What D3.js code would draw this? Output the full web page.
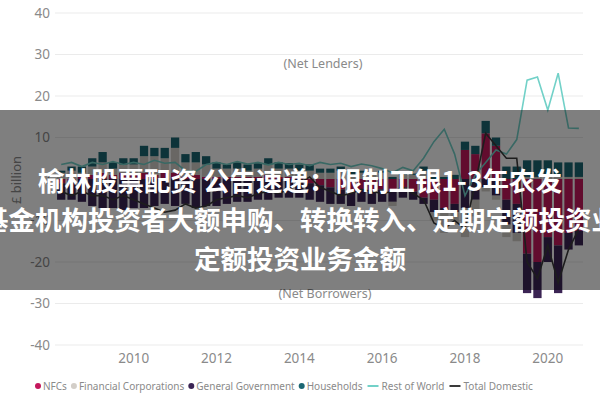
<!DOCTYPE html>
<html><head><meta charset="utf-8">
<script src="https://cdn.jsdelivr.net/npm/d3@7"></script>
<style>body{margin:0;background:#fff}svg{display:block}</style>
</head><body><svg id="c" width="600" height="400"></svg>
<script>
const quarters = ["2008 Q2","2008 Q3","2008 Q4","2009 Q1","2009 Q2","2009 Q3","2009 Q4",
"2010 Q1","2010 Q2","2010 Q3","2010 Q4","2011 Q1","2011 Q2","2011 Q3","2011 Q4",
"2012 Q1","2012 Q2","2012 Q3","2012 Q4","2013 Q1","2013 Q2","2013 Q3","2013 Q4",
"2014 Q1","2014 Q2","2014 Q3","2014 Q4","2015 Q1","2015 Q2","2015 Q3","2015 Q4",
"2016 Q1","2016 Q2","2016 Q3","2016 Q4","2017 Q1","2017 Q2","2017 Q3","2017 Q4",
"2018 Q1","2018 Q2","2018 Q3","2018 Q4","2019 Q1","2019 Q2","2019 Q3","2019 Q4",
"2020 Q1","2020 Q2","2020 Q3","2020 Q4"];
const nfc = [-1.0,-0.5,0.5,1.0,1.5,1.0,1.5, 1.0,1.5,1.0,1.5,1.5,0.5,1.0,0.5,
 0.5,0.5,0.5,0.5,0.5,1.0,0.5,0.5, 0.5,-1.0,-1.5,-2.0,-2.5,-3.0,-2.5,-3.0,
 -2.5,-3.0,-2.0,-3.0,-4.5,-5.0,-7.0,-6.0, 7.0,6.0,11.0,8.0,-5.0,-6.0,-18.0,-20.0,
 -14.0,-16.0,-13.0,-12.5];
const financialCorps = [1.5,2.0,1.0,2.0,2.5,1.5,2.0, 2.5,4.0,4.5,3.5,6.0,3.5,3.0,3.0,
 2.0,2.0,2.0,1.5,2.0,2.5,2.0,2.0, 1.5,2.0,1.5,1.5,2.0,1.0,1.5,1.0,
 1.5,-1.0,1.0,1.0,2.0,-2.0,-5.0,-3.0, -7.0,-4.0,-1.0,-1.0,-3.0,-2.0,0.5,0.5,
 0.5,0.5,0.5,0.5];
const generalGov = [-4.0,-4.5,-5.5,-6.5,-7.0,-7.0,-7.5, -7.0,-7.0,-6.5,-6.0,-6.5,-6.0,-7.0,-6.5,
 -6.5,-6.0,-5.5,-5.5,-5.0,-5.0,-4.5,-4.5, -4.5,-4.0,-4.0,-4.0,-3.5,-3.5,-3.0,-3.0,
 -3.0,-2.5,-2.5,-2.0,-1.5,-3.0,-1.0,-2.0, -7.0,-5.0,-2.0,-4.0,-6.0,-7.0,-9.5,-8.7,
 -6.0,-11.5,-4.0,-3.5];
const households = [0.5,1.0,1.5,2.0,2.5,1.5,1.5, 1.5,2.5,2.0,2.5,2.5,2.0,2.5,2.0,
 1.5,1.0,1.5,1.5,1.3,1.5,1.5,1.3, 1.5,1.5,1.0,1.0,1.0,1.0,0.5,0.5,
 0.5,0.5,0.5,0.3,1.0,0.5,0.5,1.0, 2.0,2.0,3.0,2.0,3.0,3.0,4.0,4.0,
 4.0,3.5,3.5,3.5];
const restOfWorld = [3.5,4.0,3.0,4.0,3.5,4.2,3.5, 4.0,3.5,4.5,3.8,4.0,2.0,1.8,3.5,
 4.0,3.5,4.2,3.6,4.0,3.4,4.0,3.5, 3.8,3.2,4.0,3.5,3.8,3.0,3.6,3.2,
 2.5,1.5,2.8,2.0,5.0,9.0,12.0,6.0, -4.0,1.0,4.0,7.0,6.0,9.5,23.8,24.6,
 16.6,25.5,12.3,12.2];
const totalDomestic = [-3.0,-4.0,-3.0,-4.0,-4.0,-5.0,-4.0, -5.0,-6.0,-7.0,-8.0,-7.5,-6.0,-7.0,-6.5,
 -5.0,-4.5,-4.0,-4.5,-3.5,-3.0,-3.5,-2.5, -1.0,0.5,-2.0,-3.0,-4.0,-3.5,-2.5,-3.0,
 -3.5,-3.0,-2.0,-3.5,-5.0,-10.6,-12.0,-10.0, -12.0,-1.0,11.0,8.0,5.0,5.0,-20.0,-24.0,
 -16.0,-25.0,-17.0,-12.0];
const yTicks = [-40,-30,-20,-10,0,10,20,30,40];
const xTicks = [2010,2012,2014,2016,2018,2020];
const seriesNames = ["NFCs","Financial Corporations","General Government","Households","Rest of World","Total Domestic"];
const titleLines = ["榆林股票配资 公告速递：限制工银1-3年农发","基金机构投资者大额申购、转换转入、定期定额投资业","定额投资业务金额"];

const colors = {nfc:"#c4185c", fin:"#d3cec8", gg:"#3b2454", hh:"#1b6672", row:"#72d1c8", tot:"#3a3a3a"};
const svg = d3.select("#c");
const tOf = s => +s.slice(0,4) + (+s.slice(6)-1)/4;
const x = d3.scaleLinear().domain([2008.1, 2020.85]).range([55, 583]);
const y = d3.scaleLinear().domain([-40, 40]).range([345, 13]);

// grid
svg.append("g").selectAll("line").data(yTicks).join("line")
  .attr("x1",55).attr("x2",583).attr("y1",d=>y(d)).attr("y2",d=>y(d))
  .attr("stroke","#ebebeb").attr("stroke-width",1);
svg.append("g").selectAll("text").data(yTicks).join("text")
  .attr("x",50).attr("y",d=>y(d)).attr("dy","0.35em").attr("text-anchor","end")
  .attr("font-family","Noto Sans, sans-serif").attr("font-size",13.5).attr("fill","#8a8a8a")
  .text(d=>d);
svg.append("g").selectAll("text").data(xTicks).join("text")
  .attr("x",d=>x(d)).attr("y",358).attr("dy","0.35em").attr("text-anchor","middle")
  .attr("font-family","Noto Sans, sans-serif").attr("font-size",13.5).attr("fill","#8a8a8a")
  .text(d=>d);
svg.append("text").attr("transform","translate(16,180) rotate(-90)").attr("text-anchor","middle")
  .attr("dy","0.35em").attr("font-family","Noto Sans, sans-serif").attr("font-size",13).attr("fill","#8a8a8a")
  .text("£ billion");

// stacked bars
const rows = quarters.map((q,i)=>({q, t:tOf(q), nfc:nfc[i], gg:generalGov[i], fin:financialCorps[i], hh:households[i]}));
const keys = ["nfc","gg","fin","hh"];
const stacked = d3.stack().keys(keys).offset(d3.stackOffsetDiverging)(rows);
const bw = x(2008.3) - x(2008.1);
svg.append("g").selectAll("g").data(stacked).join("g").attr("fill",s=>colors[s.key])
  .selectAll("rect").data(s=>s).join("rect")
  .attr("x",d=>x(d.data.t)-bw/2).attr("width",bw)
  .attr("y",d=>y(Math.max(d[0],d[1]))).attr("height",d=>Math.abs(y(d[0])-y(d[1])));

// lines
const line = d3.line().x((v,i)=>x(tOf(quarters[i]))).y(v=>y(v));
svg.append("path").attr("d",line(restOfWorld)).attr("fill","none").attr("stroke",colors.row).attr("stroke-width",1.6);
svg.append("path").attr("d",line(totalDomestic)).attr("fill","none").attr("stroke",colors.tot).attr("stroke-width",1.6);

// annotations
svg.append("text").attr("x",323).attr("y",y(27.8)).attr("dy","0.35em").attr("text-anchor","middle")
  .attr("font-family","Noto Sans, sans-serif").attr("font-size",12.5).attr("fill","#8a8a8a").text("(Net Lenders)");
svg.append("text").attr("x",325).attr("y",y(-27.5)).attr("dy","0.35em").attr("text-anchor","middle")
  .attr("font-family","Noto Sans, sans-serif").attr("font-size",12.5).attr("fill","#8a8a8a").text("(Net Borrowers)");

// legend
const lg = svg.append("g").attr("font-family","Noto Sans, sans-serif").attr("font-size",10).attr("fill","#8a8a8a");
const legendCols = [colors.nfc, colors.fin, colors.gg, colors.hh, colors.row, colors.tot];
let lx = 35;
seriesNames.forEach((n,i)=>{
  if (i < 4) {
    lg.append("circle").attr("cx",lx+3).attr("cy",386).attr("r",3).attr("fill",legendCols[i]);
    lx += 8;
  } else {
    lg.append("line").attr("x1",lx+1).attr("x2",lx+12).attr("y1",386).attr("y2",386)
      .attr("stroke",legendCols[i]).attr("stroke-width",2);
    lx += 15;
  }
  const t = lg.append("text").attr("x",lx).attr("y",386).attr("dy","0.35em").text(n);
  lx += t.node().getComputedTextLength() + 4;
});

// overlay banner
svg.append("rect").attr("x",0).attr("y",110).attr("width",600).attr("height",180).attr("fill","rgba(0,0,0,0.5)");
svg.append("g").selectAll("text").data(titleLines).join("text")
  .attr("x",300).attr("y",(d,i)=>182+i*39).attr("dy","0.35em").attr("text-anchor","middle")
  .attr("font-family","Noto Sans CJK SC, sans-serif").attr("font-weight","bold").attr("font-size",26.5)
  .attr("fill","#fff").text(d=>d);
</script></body></html>
